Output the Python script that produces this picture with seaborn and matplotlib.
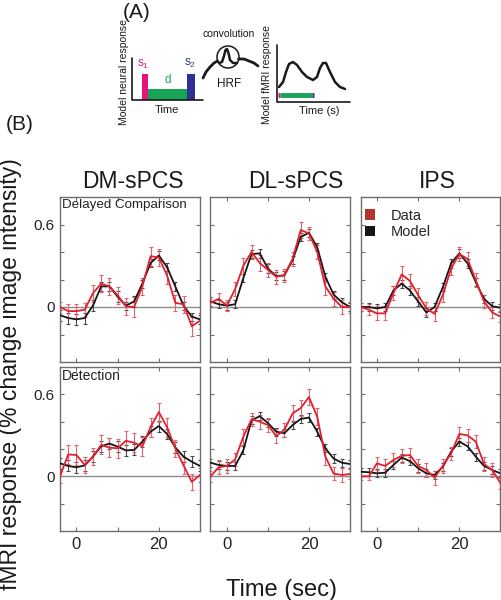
"""Delayed comparison vs detection: fMRI time courses, data and model fits."""

import matplotlib.pyplot as plt
import numpy as np
import pandas as pd
import seaborn as sns
from matplotlib.patches import Circle, Patch, Rectangle

W, H = 502, 600

# ---- data ----
time = [-4, -2, 0, 2, 4, 6, 8, 10, 12, 14, 16, 18, 20, 22, 24, 26, 28, 30]
regions = ["DM-sPCS", "DL-sPCS", "IPS"]
tasks = ["Delayed Comparison", "Detection"]

dm_dc_data = [0.00, -0.03, -0.03, -0.02, 0.10, 0.17, 0.15, 0.085, 0.005, 0.00, 0.15, 0.37, 0.36, 0.23, 0.03, 0.02, -0.14, -0.10]
dm_dc_model = [-0.06, -0.08, -0.09, -0.08, 0.01, 0.15, 0.15, 0.075, 0.01, 0.04, 0.17, 0.32, 0.375, 0.29, 0.15, 0.01, -0.07, -0.09]
dl_dc_data = [0.03, 0.06, 0.01, 0.13, 0.30, 0.40, 0.32, 0.27, 0.22, 0.23, 0.35, 0.56, 0.535, 0.40, 0.15, 0.06, 0.00, 0.00]
dl_dc_model = [0.04, 0.02, 0.01, 0.02, 0.21, 0.385, 0.39, 0.28, 0.225, 0.23, 0.34, 0.51, 0.54, 0.435, 0.22, 0.09, 0.035, 0.00]
ips_dc_data = [0.00, -0.02, -0.046, -0.046, 0.10, 0.237, 0.19, 0.087, -0.01, -0.05, 0.087, 0.28, 0.385, 0.35, 0.194, 0.04, -0.04, -0.07]
ips_dc_model = [0.00, 0.00, -0.01, 0.00, 0.12, 0.17, 0.12, 0.04, -0.04, 0.00, 0.145, 0.317, 0.39, 0.317, 0.18, 0.06, 0.005, -0.005]

dm_det_data = [0.00, 0.16, 0.156, 0.083, 0.144, 0.23, 0.21, 0.205, 0.26, 0.246, 0.22, 0.36, 0.47, 0.36, 0.205, 0.08, -0.04, 0.01]
dm_det_model = [0.095, 0.076, 0.066, 0.08, 0.144, 0.22, 0.24, 0.217, 0.19, 0.193, 0.254, 0.327, 0.368, 0.31, 0.212, 0.144, 0.107, 0.076]
dl_det_data = [0.00, 0.066, 0.076, 0.124, 0.29, 0.417, 0.40, 0.375, 0.295, 0.34, 0.46, 0.50, 0.58, 0.437, 0.144, 0.02, 0.01, 0.017]
dl_det_model = [0.10, 0.083, 0.076, 0.076, 0.19, 0.41, 0.44, 0.39, 0.327, 0.315, 0.375, 0.42, 0.43, 0.327, 0.205, 0.13, 0.10, 0.09]
ips_det_data = [0.00, 0.00, 0.095, 0.076, 0.12, 0.15, 0.156, 0.076, 0.046, -0.01, 0.076, 0.168, 0.31, 0.30, 0.254, 0.09, 0.046, -0.05]
ips_det_model = [0.034, 0.03, 0.022, 0.027, 0.083, 0.137, 0.112, 0.059, 0.022, 0.01, 0.07, 0.18, 0.254, 0.22, 0.144, 0.076, 0.046, 0.022]

# standard errors
dm_dc_data_err = [0.04, 0.05, 0.05, 0.05, 0.06, 0.06, 0.06, 0.06, 0.06, 0.07, 0.06, 0.07, 0.06, 0.06, 0.06, 0.06, 0.07, 0.06]
dm_dc_model_err = [0.04, 0.04, 0.04, 0.04, 0.04, 0.03, 0.03, 0.04, 0.03, 0.04, 0.03, 0.03, 0.03, 0.03, 0.03, 0.03, 0.03, 0.03]
dl_dc_data_err = [0.03, 0.04, 0.04, 0.05, 0.06, 0.05, 0.06, 0.05, 0.05, 0.05, 0.05, 0.06, 0.05, 0.05, 0.06, 0.05, 0.05, 0.04]
dl_dc_model_err = [0.03, 0.03, 0.03, 0.03, 0.03, 0.03, 0.03, 0.03, 0.03, 0.03, 0.03, 0.03, 0.03, 0.03, 0.03, 0.03, 0.03, 0.03]
ips_dc_data_err = [0.03, 0.04, 0.05, 0.05, 0.05, 0.06, 0.05, 0.05, 0.05, 0.05, 0.05, 0.05, 0.05, 0.05, 0.05, 0.05, 0.04, 0.04]
ips_dc_model_err = [0.03, 0.03, 0.03, 0.03, 0.03, 0.03, 0.03, 0.03, 0.03, 0.03, 0.03, 0.03, 0.03, 0.03, 0.03, 0.03, 0.03, 0.03]
dm_det_data_err = [0.05, 0.07, 0.07, 0.06, 0.06, 0.07, 0.07, 0.07, 0.07, 0.07, 0.07, 0.07, 0.07, 0.07, 0.06, 0.06, 0.06, 0.05]
dm_det_model_err = [0.04, 0.04, 0.04, 0.04, 0.04, 0.04, 0.04, 0.04, 0.04, 0.04, 0.04, 0.04, 0.04, 0.04, 0.04, 0.04, 0.04, 0.04]
dl_det_data_err = [0.04, 0.05, 0.05, 0.05, 0.06, 0.05, 0.05, 0.05, 0.05, 0.05, 0.06, 0.06, 0.06, 0.06, 0.06, 0.05, 0.05, 0.04]
dl_det_model_err = [0.03, 0.03, 0.03, 0.03, 0.03, 0.03, 0.03, 0.03, 0.03, 0.03, 0.03, 0.03, 0.03, 0.03, 0.03, 0.03, 0.03, 0.03]
ips_det_data_err = [0.03, 0.03, 0.05, 0.05, 0.05, 0.05, 0.05, 0.05, 0.05, 0.05, 0.05, 0.05, 0.05, 0.05, 0.05, 0.05, 0.05, 0.04]
ips_det_model_err = [0.03, 0.03, 0.03, 0.03, 0.03, 0.03, 0.03, 0.03, 0.03, 0.03, 0.03, 0.03, 0.03, 0.03, 0.03, 0.03, 0.03, 0.03]

panels = [
    [(dm_dc_data, dm_dc_data_err, dm_dc_model, dm_dc_model_err),
     (dl_dc_data, dl_dc_data_err, dl_dc_model, dl_dc_model_err),
     (ips_dc_data, ips_dc_data_err, ips_dc_model, ips_dc_model_err)],
    [(dm_det_data, dm_det_data_err, dm_det_model, dm_det_model_err),
     (dl_det_data, dl_det_data_err, dl_det_model, dl_det_model_err),
     (ips_det_data, ips_det_data_err, ips_det_model, ips_det_model_err)],
]

# schematic (panel A) shapes, in figure pixels
fmri_x = [279, 283, 286, 289, 293, 297, 302, 307, 313, 317, 320, 323, 326, 330, 335, 340, 345]
fmri_y = [87, 82, 72, 64, 62, 65, 72, 77, 80, 77, 68, 63, 63, 72, 82, 87, 89]
hrf_x = [219, 222, 224, 225.5, 227, 228.5, 230, 233, 237]
hrf_y = [63, 62, 56, 50, 49, 53, 60, 63, 63]

RED = "#e41f2d"
RED_ERR = "#e8606c"
BLACK = "#161616"
BLACK_ERR = "#4a4a4a"
GRAY = "#6e6e6e"

sns.set_theme(style="white")
plt.rcParams["font.family"] = ["Liberation Sans", "DejaVu Sans"]
plt.rcParams["mathtext.fontset"] = "custom"
plt.rcParams["mathtext.rm"] = "Liberation Sans"


def rect(x0, y0, x1, y1):
    return [x0 / W, 1 - y1 / H, (x1 - x0) / W, (y1 - y0) / H]


fig = plt.figure(figsize=(W / 100, H / 100), dpi=100)

# overlay in pixel coordinates for the schematic and labels
ov = fig.add_axes([0, 0, 1, 1])
ov.set_xlim(0, W)
ov.set_ylim(H, 0)
ov.axis("off")

cols = [(60, 200), (210.5, 350), (360.5, 500.5)]
rows = [(197, 362), (367, 531)]

for r, (y0, y1) in enumerate(rows):
    for c, (x0, x1) in enumerate(cols):
        ax = fig.add_axes(rect(x0, y0, x1, y1))
        data, data_err, model, model_err = panels[r][c]
        df = pd.DataFrame({
            "time": time * 2,
            "value": model + data,
            "series": ["Model"] * len(time) + ["Data"] * len(time),
        })
        ax.axhline(0, color="#8c8c8c", lw=1.0, zorder=1)
        ax.errorbar(time, model, yerr=model_err, fmt="none", ecolor=BLACK_ERR,
                    elinewidth=0.8, capsize=1.6, capthick=0.8, zorder=2)
        ax.errorbar(time, data, yerr=data_err, fmt="none", ecolor=RED_ERR,
                    elinewidth=0.8, capsize=1.6, capthick=0.8, zorder=2)
        sns.lineplot(data=df, x="time", y="value", hue="series",
                     palette={"Model": BLACK, "Data": RED},
                     hue_order=["Model", "Data"], lw=1.3, legend=False,
                     ax=ax, zorder=3)
        ax.set_xlim(-4, 30)
        ax.set_ylim(-0.4, 0.8)
        ax.set_xlabel("")
        ax.set_ylabel("")
        ax.set_xticks([0, 10, 20])
        ax.set_yticks([-0.2, 0, 0.2, 0.4, 0.6])
        if c == 0:
            ax.set_yticklabels(["", "0", "", "", "0.6"], fontsize=11)
        else:
            ax.set_yticklabels([])
        if r == 1:
            ax.set_xticklabels(["0", "", "20"], fontsize=12)
        else:
            ax.set_xticklabels([])
        ax.tick_params(direction="in", length=3, width=0.8, color=GRAY,
                       top=True, right=True, left=True, bottom=True,
                       pad=4, labelcolor="#222222")
        for s in ax.spines.values():
            s.set_color(GRAY)
            s.set_linewidth(1.0)
        ax.patch.set_alpha(0)
        if c == 0:
            ax.text(0.015, 0.985, tasks[r], transform=ax.transAxes,
                    ha="left", va="top", fontsize=9.6 if r == 0 else 10,
                    color="#222222")
        if r == 0 and c == 2:
            handles = [Patch(facecolor="#b3342d", edgecolor="none", label="Data"),
                       Patch(facecolor=BLACK, edgecolor="none", label="Model")]
            ax.legend(handles=handles, loc="upper left",
                      bbox_to_anchor=(0.03, 0.93), frameon=False,
                      fontsize=10.5, handlelength=0.7, handleheight=0.7,
                      handletextpad=1.1, labelspacing=0.15, borderpad=0,
                      borderaxespad=0)

# column titles
title_x = [133, 296, 437]
for name, tx in zip(regions, title_x):
    ov.text(tx, 181, name, ha="center", va="center", fontsize=16.5,
            color="#1a1a1a")

# axis labels
ov.text(11, 374, "fMRI response (% change image intensity)", rotation=90,
        ha="center", va="center", fontsize=16.5, color="#1a1a1a")
ov.text(282, 590, "Time (sec)", ha="center", va="center", fontsize=17,
        color="#1a1a1a")

# panel letters
ov.text(137, 12, "(A)", ha="center", va="center", fontsize=15, color="#1a1a1a")
ov.text(20, 124, "(B)", ha="center", va="center", fontsize=15, color="#1a1a1a")

# ---- panel A schematic ----
PINK = "#e5157d"
GREEN = "#18a457"
NAVY = "#2f3192"

ov.plot([132, 132, 203], [58, 100, 100], color="#1a1a1a", lw=1.2)
ov.add_patch(Rectangle((142, 74), 6, 26, color=PINK, lw=0))
ov.add_patch(Rectangle((148, 89), 39, 11, color=GREEN, lw=0))
ov.add_patch(Rectangle((187, 74), 8, 26, color=NAVY, lw=0))
ov.text(143, 64, "s$_1$", color=PINK, ha="center", va="center", fontsize=8.5)
ov.text(168, 80, "d", color=GREEN, ha="center", va="center", fontsize=8.5)
ov.text(190, 63, "s$_2$", color=NAVY, ha="center", va="center", fontsize=8.5)
ov.text(167, 110, "Time", ha="center", va="center", fontsize=8, color="#1a1a1a")
ov.text(124, 72, "Model neural response", rotation=90, ha="center",
        va="center", fontsize=7.5, color="#1a1a1a")

ov.add_patch(Circle((228, 57), 11, fill=False, ec="#1a1a1a", lw=1.1))
ov.plot(hrf_x, hrf_y, color="#1a1a1a", lw=1.8)
ov.plot([203, 206, 210, 214, 217.5], [78, 72, 67, 63, 61], color="#1a1a1a", lw=2)
ov.plot([238.5, 244, 249, 254, 258], [59, 59, 61, 63, 66], color="#1a1a1a", lw=2)
ov.text(229, 34, "convolution", ha="center", va="center", fontsize=7.5, color="#1a1a1a")
ov.text(229, 84, "HRF", ha="center", va="center", fontsize=8.5, color="#1a1a1a")

ov.plot([277, 277, 350], [45, 102, 102], color="#1a1a1a", lw=1.2)
ov.plot(fmri_x, fmri_y, color="#1a1a1a", lw=1.8)
ov.plot([278, 280.5], [95, 95], color=PINK, lw=3.5, solid_capstyle="butt")
ov.plot([280.5, 312], [95, 95], color=GREEN, lw=3.5, solid_capstyle="butt")
ov.plot([312, 314], [95, 95], color=NAVY, lw=3.5, solid_capstyle="butt")
ov.text(319, 111, "Time (s)", ha="center", va="center", fontsize=8, color="#1a1a1a")
ov.text(267, 74, "Model fMRI response", rotation=90, ha="center",
        va="center", fontsize=7.5, color="#1a1a1a")

fig.savefig("out.png", dpi=100)
plt.close(fig)
